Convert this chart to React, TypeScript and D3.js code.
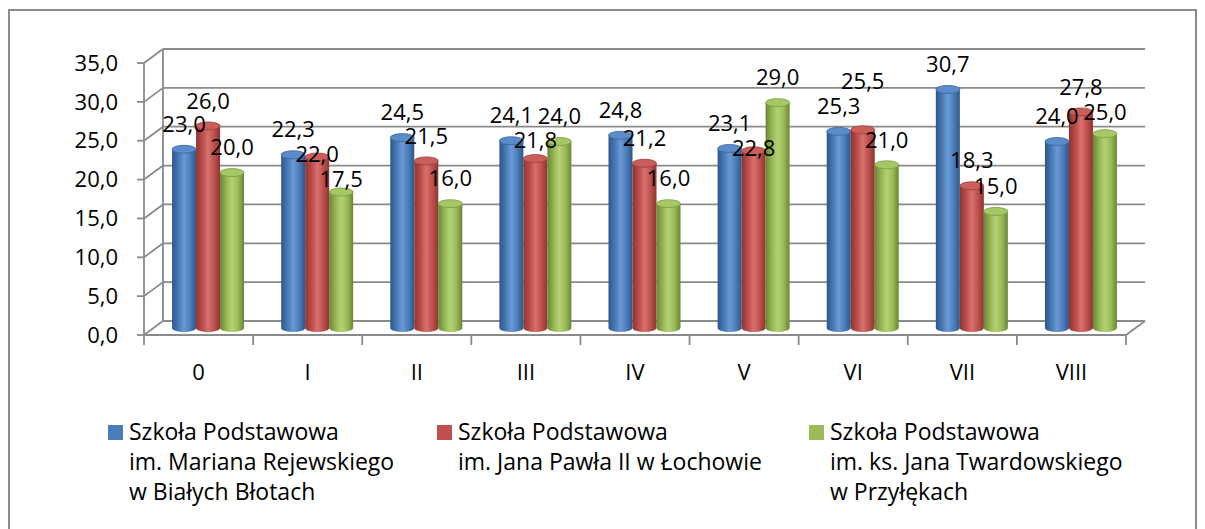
import React from "react";
import * as d3 from "d3";

const categories = ["0", "I", "II", "III", "IV", "V", "VI", "VII", "VIII"];
const seriesBiale = [23.0, 22.3, 24.5, 24.1, 24.8, 23.1, 25.3, 30.7, 24.0];
const seriesLochowo = [26.0, 22.0, 21.5, 21.8, 21.2, 22.8, 25.5, 18.3, 27.8];
const seriesPrzylek = [20.0, 17.5, 16.0, 24.0, 16.0, 29.0, 21.0, 15.0, 25.0];
const yTicks = [0, 5, 10, 15, 20, 25, 30, 35];
const legendLines = [
  ["Szkoła Podstawowa", "im. Mariana Rejewskiego", "w Białych Błotach"],
  ["Szkoła Podstawowa", "im. Jana Pawła II w Łochowie"],
  ["Szkoła Podstawowa", "im. ks. Jana Twardowskiego", "w Przyłękach"],
];

const palettes = [
  { id: "b", dark: "#2f5687", mid: "#4a7ebb", light: "#6b9ad3", top: "#5a8ccb", topEdge: "#3b679d" },
  { id: "r", dark: "#8b3532", mid: "#c0504d", light: "#d6716e", top: "#c95e5b", topEdge: "#9a3f3c" },
  { id: "g", dark: "#6a8534", mid: "#9bbb59", light: "#b4d275", top: "#a6c765", topEdge: "#7c9a40" },
];

const FONT = "'Open Sans', 'Noto Sans', sans-serif";

export default function App() {
  const W = 1205;
  const H = 529;
  const x0 = 144;
  const x1 = 1126;
  const dx = 19;
  const dy = -14;
  const x = d3.scaleBand<string>().domain(categories).range([x0, x1]);
  const y = d3.scaleLinear().domain([0, 35]).range([335, 63]);
  const series = [seriesBiale, seriesLochowo, seriesPrzylek];
  const fmt = (v: number) => d3.format(".1f")(v).replace(".", ",");
  const r = 12;
  const ry = 4;
  const grid = "#8a8a8a";
  const labelW = 44;
  const labelH = 22;

  const bars: any[] = [];
  categories.forEach((c, i) => {
    const gc = (x(c) as number) + x.bandwidth() / 2 + dx / 2;
    const placed: { x: number; y: number; v: number }[] = [];
    series.forEach((s, k) => {
      const cx = gc + (k - 1) * 2 * r;
      const yb = y(0) + dy / 2;
      const yt = y(s[i]) + dy / 2;
      let ly = yt - 25;
      // simple collision avoidance within a group
      for (let iter = 0; iter < 4; iter++) {
        let moved = false;
        for (const p of placed) {
          if (Math.abs(p.x - cx) < labelW && Math.abs(p.y - ly) < labelH) {
            ly = s[i] < p.v ? p.y + 25 : p.y - 25;
            moved = true;
          }
        }
        if (!moved) break;
      }
      placed.push({ x: cx, y: ly, v: s[i] });
      bars.push({ cx, yb, yt, ly, v: s[i], k, key: `${c}-${k}` });
    });
  });

  const lx = [108, 437, 809];

  return (
    <svg width={W} height={H} style={{ display: "block", position: "absolute", left: 0, top: 0 }}>
      <defs>
        {palettes.map((p) => (
          <linearGradient key={p.id} id={`grad-${p.id}`} x1="0" x2="1" y1="0" y2="0">
            <stop offset="0" stopColor={p.dark} />
            <stop offset="0.3" stopColor={p.mid} />
            <stop offset="0.5" stopColor={p.light} />
            <stop offset="0.75" stopColor={p.mid} />
            <stop offset="1" stopColor={p.dark} />
          </linearGradient>
        ))}
      </defs>
      <rect x={0} y={0} width={W} height={H} fill="#fff" />
      <rect x={9} y={10} width={1187} height={530} fill="none" stroke="#8c8c8c" strokeWidth={2} />

      {/* back wall gridlines */}
      {yTicks.map((t) => (
        <g key={`g${t}`}>
          <line x1={x0 + dx} x2={x1 + dx} y1={y(t) + dy} y2={y(t) + dy} stroke={grid} strokeWidth={1.8} />
          <line x1={x0} x2={x0 + dx} y1={y(t)} y2={y(t) + dy} stroke={grid} strokeWidth={1.8} />
          <line x1={x0 - 7} x2={x0} y1={y(t)} y2={y(t)} stroke={grid} strokeWidth={1.8} />
          <text x={118} y={y(t)} dy="0.35em" textAnchor="end" fontFamily={FONT} fontSize={22} fill="#000">
            {fmt(t)}
          </text>
        </g>
      ))}
      <line x1={x0 + dx} x2={x0 + dx} y1={y(0) + dy} y2={y(35) + dy} stroke={grid} strokeWidth={1.8} />
      <line x1={x0} x2={x0} y1={y(0)} y2={y(35)} stroke={grid} strokeWidth={1.8} />
      {/* floor */}
      <line x1={x0} x2={x1} y1={y(0)} y2={y(0)} stroke={grid} strokeWidth={1.8} />
      <line x1={x1} x2={x1 + dx} y1={y(0)} y2={y(0) + dy} stroke={grid} strokeWidth={1.8} />
      {d3.range(categories.length + 1).map((i) => {
        const xx = x0 + i * x.step();
        return <line key={`t${i}`} x1={xx} x2={xx} y1={y(0)} y2={y(0) + 10} stroke={grid} strokeWidth={1.8} />;
      })}
      {categories.map((c) => (
        <text key={`c${c}`} x={(x(c) as number) + x.bandwidth() / 2} y={380} textAnchor="middle" fontFamily={FONT} fontSize={22} fill="#000">
          {c}
        </text>
      ))}

      {/* cylinders */}
      {bars.map((b) => {
        const p = palettes[b.k];
        const d = `M${b.cx - r},${b.yt} L${b.cx - r},${b.yb} A${r},${ry} 0 0 0 ${b.cx + r},${b.yb} L${b.cx + r},${b.yt} Z`;
        return (
          <g key={b.key}>
            <path d={d} fill={`url(#grad-${p.id})`} />
            <ellipse cx={b.cx} cy={b.yt} rx={r} ry={ry} fill={p.top} stroke={p.topEdge} strokeWidth={0.8} />
          </g>
        );
      })}

      {/* data labels */}
      {bars.map((b) => (
        <text key={`l${b.key}`} x={b.cx} y={b.ly} dy="0.35em" textAnchor="middle" fontFamily={FONT} fontSize={22} fill="#000">
          {fmt(b.v)}
        </text>
      ))}

      {/* legend */}
      {legendLines.map((lines, k) => (
        <g key={`lg${k}`}>
          <rect x={lx[k]} y={425} width={15} height={15} fill={palettes[k].mid} />
          {lines.map((t, j) => (
            <text key={j} x={lx[k] + 21} y={440 + j * 30} fontFamily={FONT} fontSize={23} fill="#000">
              {t}
            </text>
          ))}
        </g>
      ))}
    </svg>
  );
}
